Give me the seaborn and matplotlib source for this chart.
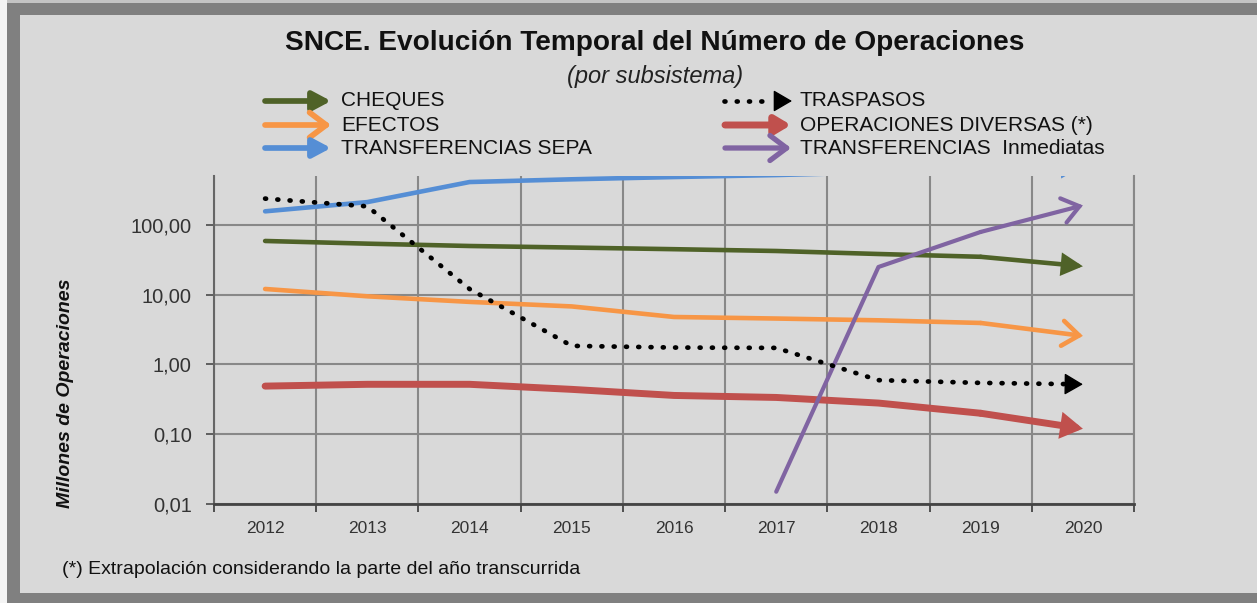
import numpy as np
import pandas as pd
import matplotlib
matplotlib.use("Agg")
import matplotlib.pyplot as plt
import seaborn as sns
from matplotlib.patches import Rectangle, FancyArrowPatch
from matplotlib.lines import Line2D
from matplotlib.ticker import FixedLocator, FixedFormatter, NullLocator, NullFormatter

# ---------------- data ----------------
years = ["2012", "2013", "2014", "2015", "2016", "2017", "2018", "2019", "2020"]
cheques = [59, 54, 50, 47.5, 45, 42.4, 38.4, 35, 25.6]
efectos = [12.1, 9.5, 7.9, 6.8, 4.8, 4.56, 4.3, 3.94, 2.57]
transf_sepa = [157, 213, 413, 452, 487, 520, 570, 630, 700]
traspasos = [239, 185, 12.1, 1.85, 1.75, 1.73, 0.596, 0.545, 0.52]
op_diversas = [0.49, 0.52, 0.52, 0.44, 0.36, 0.337, 0.28, 0.20, 0.12]
transf_inmediatas = [np.nan, np.nan, np.nan, np.nan, np.nan, 0.015, 25, 79.5, 191]

ytick_vals = [0.01, 0.1, 1, 10, 100]
ytick_labels = ["0,01", "0,10", "1,00", "10,00", "100,00"]

title = "SNCE. Evolución Temporal del Número de Operaciones"
subtitle = "(por subsistema)"
ylabel = "Millones de Operaciones"
footnote = "(*) Extrapolación considerando la parte del año transcurrida"

# ---------------- style ----------------
sns.set_theme(style="white")
plt.rcParams["font.family"] = ["Liberation Sans", "DejaVu Sans"]

BG = "#d9d9d9"
GRID = "#888888"
W, H = 1257, 603
fig = plt.figure(figsize=(W / 100, H / 100), dpi=100, facecolor=BG)


def fx(x):
    return x / W


def fy(y):
    return 1 - y / H


# frame
fig.add_artist(Rectangle((0, 0), fx(7), 1, transform=fig.transFigure, color="#f4f4f4", lw=0))
fig.add_artist(Rectangle((fx(7), 0), fx(13), 1 - 3 / H, transform=fig.transFigure, color="#808080", lw=0))
fig.add_artist(Rectangle((fx(7), fy(15)), 1, 12 / H, transform=fig.transFigure, color="#808080", lw=0))
fig.add_artist(Rectangle((fx(7), fy(603)), 1, 10 / H, transform=fig.transFigure, color="#808080", lw=0))
fig.add_artist(Rectangle((fx(7), fy(3)), 1, 3 / H, transform=fig.transFigure, color="#c4c4c4", lw=0))

ax = fig.add_axes([fx(214), fy(504), fx(1134) - fx(214), fy(176) - fy(504)])
ax.set_facecolor(BG)
ax.set_yscale("log")
ax.set_xlim(-0.5, 8.5)
ax.set_ylim(0.01, 504)

x = np.arange(len(years))

series = [
    # name, values, color, lw, kind, arrowstyle, mutation
    ("CHEQUES", cheques, "#4f6228", 3.3, "solid", "-|>,head_length=0.6,head_width=0.32", 18),
    ("EFECTOS", efectos, "#f79646", 3.3, "solid", "->,head_length=0.6,head_width=0.45", 20),
    ("TRANSFERENCIAS SEPA", transf_sepa, "#558ed5", 3.3, "solid", "-|>,head_length=0.6,head_width=0.32", 18),
    ("OPERACIONES DIVERSAS (*)", op_diversas, "#c0504d", 5.0, "solid", "-|>,head_length=0.5,head_width=0.3", 18),
    ("TRANSFERENCIAS  Inmediatas", transf_inmediatas, "#8064a2", 3.0, "solid", "->,head_length=0.6,head_width=0.45", 20),
    ("TRASPASOS", traspasos, "#000000", 3.4, "dotted", "-|>,head_length=0.65,head_width=0.38", 18),
]

DOTS = (0, (0.2, 2.4))

for name, vals, col, lw, kind, astyle, ms in series:
    df = pd.DataFrame({"x": x, "y": vals}).dropna()
    if kind == "dotted":
        sns.lineplot(data=df, x="x", y="y", ax=ax, color=col, lw=lw, estimator=None, sort=False)
        ln = ax.lines[-1]
        ln.set_linestyle(DOTS)
        ln.set_dash_capstyle("round")
        # head only, oriented along the last segment
        p1 = ax.transData.transform((df.x.iloc[-2], df.y.iloc[-2]))
        p2 = ax.transData.transform((df.x.iloc[-1], df.y.iloc[-1]))
        d = (p2 - p1) / np.hypot(*(p2 - p1))
        L = 12
        ann = ax.annotate("", xy=(df.x.iloc[-1], df.y.iloc[-1]), xytext=(-d[0] * L, -d[1] * L),
                          textcoords="offset points",
                          arrowprops=dict(arrowstyle=astyle, color=col, lw=1, shrinkA=0, shrinkB=0,
                                          mutation_scale=ms))
    else:
        sns.lineplot(data=df.iloc[:-1], x="x", y="y", ax=ax, color=col, lw=lw, estimator=None, sort=False)
        ax.lines[-1].set_solid_capstyle("round")
        ax.lines[-1].set_solid_joinstyle("round")
        ann = ax.annotate("", xy=(df.x.iloc[-1], df.y.iloc[-1]), xytext=(df.x.iloc[-2], df.y.iloc[-2]),
                          annotation_clip=False,
                          arrowprops=dict(arrowstyle=astyle, color=col, lw=lw, shrinkA=0, shrinkB=0,
                                          mutation_scale=ms, capstyle="round", joinstyle="miter"))
    ann.arrow_patch.set_clip_box(ax.bbox)
    ann.arrow_patch.set_clip_on(True)

# axes
ax.set_xlabel("")
ax.set_ylabel("")
ax.yaxis.set_major_locator(FixedLocator(ytick_vals))
ax.yaxis.set_major_formatter(FixedFormatter(ytick_labels))
ax.yaxis.set_minor_locator(NullLocator())
ax.xaxis.set_major_locator(FixedLocator(np.arange(-0.5, 9, 1)))
ax.xaxis.set_major_formatter(NullFormatter())
ax.xaxis.set_minor_locator(FixedLocator(x))
ax.xaxis.set_minor_formatter(FixedFormatter(years))
ax.grid(True, which="major", axis="both", color=GRID, lw=1.5)
ax.set_axisbelow(True)
ax.tick_params(axis="y", which="major", direction="out", length=6, width=1.3, color="#555555",
               labelsize=14.5, labelcolor="#333333", pad=10, left=True)
ax.tick_params(axis="x", which="major", direction="out", length=6, width=1.3, color="#444444", bottom=True)
ax.tick_params(axis="x", which="minor", length=0, labelsize=12.5, labelcolor="#333333", pad=12)
ax.spines["top"].set_visible(False)
ax.spines["right"].set_color(GRID)
ax.spines["right"].set_linewidth(1.5)
ax.spines["left"].set_color("#666666")
ax.spines["left"].set_linewidth(1.5)
ax.spines["bottom"].set_color("#444444")
ax.spines["bottom"].set_linewidth(2.0)

# texts
fig.text(fx(655), fy(43), title, fontsize=20.2, fontweight="bold", ha="center", va="center", color="#111111")
fig.text(fx(655), fy(76), subtitle, fontsize=17, fontstyle="italic", ha="center", va="center", color="#222222")
fig.text(fx(66), fy(393), ylabel, rotation=90, fontsize=14, fontweight="bold", fontstyle="italic",
         ha="center", va="center", color="#111111")
fig.text(fx(62), fy(570), footnote, fontsize=14, ha="left", va="center", color="#111111")

# legend (manual, two columns)
rows = [101, 125, 148]
leg = [
    (265, 341, rows[0], series[0]),
    (265, 341, rows[1], series[1]),
    (265, 341, rows[2], series[2]),
    (725, 800, rows[0], series[5]),
    (725, 800, rows[1], series[3]),
    (725, 800, rows[2], series[4]),
]
for x0, xt, yr, (name, vals, col, lw, kind, astyle, ms) in leg:
    if kind == "dotted":
        fig.add_artist(Line2D([fx(724), fx(772)], [fy(yr), fy(yr)], transform=fig.transFigure,
                              ls=DOTS, lw=lw, color=col, dash_capstyle="round"))
        fig.add_artist(FancyArrowPatch((fx(775), fy(yr)), (fx(792), fy(yr)), transform=fig.transFigure,
                                       arrowstyle=astyle, mutation_scale=ms, color=col, lw=1,
                                       shrinkA=0, shrinkB=0))
    else:
        fig.add_artist(FancyArrowPatch((fx(x0), fy(yr)), (fx(x0 + 66), fy(yr)), transform=fig.transFigure,
                                       arrowstyle=astyle, mutation_scale=ms, color=col, lw=min(lw + 0.8, 5),
                                       shrinkA=0, shrinkB=0, capstyle="round"))
    fig.text(fx(xt), fy(yr), name, fontsize=15, ha="left", va="center", color="#111111")

fig.savefig("out.png", dpi=100, facecolor=BG)
